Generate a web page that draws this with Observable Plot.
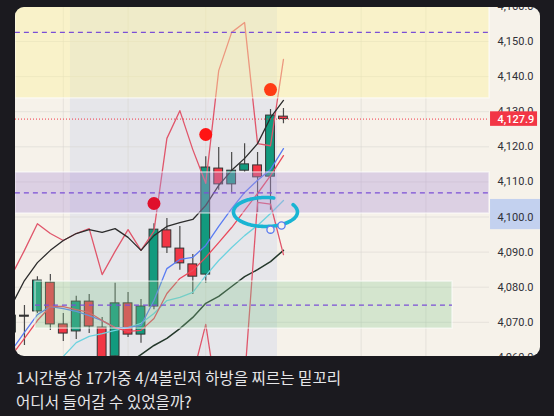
<!DOCTYPE html>
<html><head><meta charset="utf-8">
<script src="https://cdn.jsdelivr.net/npm/d3@7"></script>
<script src="https://cdn.jsdelivr.net/npm/@observablehq/plot@0.6"></script>
<style>
html,body{margin:0;padding:0;background:#1b1a1f;width:554px;height:416px;overflow:hidden}
#panel{position:absolute;left:15px;top:7px;width:525px;height:349px;border-radius:9px;overflow:hidden;background:#f6f2ea}
#cap{position:absolute;left:16px;top:365px;color:#e6e6e8;font-family:"Noto Sans CJK KR","Noto Sans",sans-serif;font-size:15.6px;line-height:24px;white-space:nowrap}
</style></head><body>
<div id="panel"></div>
<div id="cap"><div>1시간봉상 17가중 4/4볼린저 하방을 찌르는 밑꼬리</div><div>어디서 들어갈 수 있었을까?</div></div>
<script>
// ---- candles (1h) ----
const open  = [4067.1,4071.9,4073.1,4081.3,4069.4,4067.4,4075.9,4068.5,4060.3,4075.4,4066.5,4074.5,4096.2,4091.0,4086.5,4083.6,4113.8,4109.3,4113.2,4114.7,4111.5,4128.6];
const high  = [4073.0,4074.8,4083.0,4083.6,4072.5,4077.4,4077.9,4071.4,4081.1,4078.5,4076.5,4098.1,4099.6,4097.3,4089.3,4117.2,4119.8,4118.4,4120.9,4118.4,4130.6,4130.9];
const low   = [4065.5,4063.4,4072.5,4067.7,4064.5,4065.1,4066.8,4057.0,4058.0,4065.7,4064.0,4073.6,4089.6,4084.8,4077.9,4081.1,4107.6,4107.0,4112.7,4101.3,4101.9,4126.6];
const close = [4071.9,4071.6,4081.9,4069.4,4066.8,4075.9,4068.8,4060.0,4075.4,4066.5,4074.5,4096.4,4091.3,4086.8,4083.0,4114.1,4109.3,4113.2,4115.0,4111.3,4128.9,4127.9];

// ---- indicator lines ----
const maBlack = [4074.8,4081.9,4087.0,4090.5,4093.3,4095.3,4096.4,4095.6,4096.7,4094.2,4090.5,4094.7,4097.3,4098.4,4099.3,4103.3,4109.0,4113.3,4116.7,4120.9,4128.3,4133.2];
const maDark  = [null,null,null,null,null,null,null,null,4056.0,4058.3,4060.8,4063.4,4065.4,4068.2,4071.4,4075.4,4077.4,4080.2,4083.0,4085.0,4087.3,4090.5];
const maCyan  = [null,null,null,4055.7,4060.3,4064.2,4066.0,4066.8,4067.7,4068.5,4069.7,4072.5,4076.2,4077.1,4078.5,4083.3,4087.6,4091.3,4094.7,4097.6,4101.0,4104.7];
const maBlue  = [4062.0,4067.1,4072.2,4074.5,4073.9,4073.1,4071.9,4070.5,4068.5,4068.5,4069.1,4076.2,4085.3,4087.9,4088.5,4091.9,4097.3,4102.4,4107.0,4110.5,4113.5,4119.5];
const maRed   = [4060.5,4065.4,4070.5,4074.5,4074.5,4073.6,4072.8,4070.5,4068.5,4067.4,4067.7,4071.1,4078.2,4082.5,4084.8,4088.5,4092.7,4097.0,4101.9,4106.7,4111.8,4117.5];
const bbUpper = [4083.3,4090.5,4098.1,4095.3,4093.3,4095.3,4096.7,4083.6,4090.2,4096.4,4090.5,4096.0,4122.4,4130.3,4119.2,4109.6,4141.7,4152.6,4155.4,4120.9,4120.3,4144.9];
const bbLower = [4052.0,4050.0,4050.0,4052.0,4054.4,4049.6,4050.0,4056.5,4045.0,4044.3,4045.7,4043.9,4034.0,4033.6,4054.9,4069.4,4045.5,4044.0,4053.8,4104.2,4103.7,4089.3];

// ---- signals ----
const sigIndex = [11, 15, 20];
const sigPrice = [4103.85, 4123.5, 4136.3];
const sigColor = ["#e0102c", "#ff1414", "#ff3c14"];

// ---- zones (rectangles with middle line) ----
const zoneLow   = [4133.8, 4101.0, 4068.2];
const zoneHigh  = [4171.4, 4112.7, 4081.6];
const zoneFrom  = [0.3, 0.3, 1.85];
const zoneTo    = [36.91, 36.91, 34.05];
const zoneFill  = ["#fdf29c", "#b197d7", "#85c790"];
const zoneAlpha = [0.42, 0.375, 0.3];

// ---- misc ----
const yTicks = [4060,4070,4080,4090,4100,4110,4120,4130,4140,4150,4160];
const timeGrid = [4, 9, 15, 27, 32];
const sessionFrom = 4.55, sessionTo = 20.54;
const lastPrice = 4127.9;
const selLow = 4096.4, selHigh = 4105.0;
const ellipseCx = 19.61, ellipseCy = 4101.43, ellipseRx = 2.47, ellipseRy = 4.13;
const handleIndex = [20.0, 20.85], handlePrice = [4096.4, 4097.6];

const XMIN = 0.309, XMAX = 36.91;
const candles = open.map((o, i) => ({i, o, h: high[i], l: low[i], c: close[i]}));
const zones = zoneLow.map((lo, k) => ({lo, hi: zoneHigh[k], x1: zoneFrom[k], x2: zoneTo[k], fill: zoneFill[k], a: zoneAlpha[k], mid: (lo + zoneHigh[k]) / 2}));
const signals = sigIndex.map((x, k) => ({x, y: sigPrice[k], c: sigColor[k]}));
const ell = d3.range(75, 391, 3).map(t => ({x: ellipseCx + ellipseRx * Math.cos(t * Math.PI / 180), y: ellipseCy + ellipseRy * Math.sin(t * Math.PI / 180)}));
const handles = handleIndex.map((x, k) => ({x, y: handlePrice[k]}));
const fmt = d3.format(",.1f");
const teal = "#129a7e", red = "#f23645";

const line = (arr, stroke, w = 1.3) => Plot.lineY(arr, {x: (d, i) => i, y: d => d, stroke, strokeWidth: w});

const chart = Plot.plot({
  width: 525, height: 349,
  marginLeft: 0, marginRight: 51, marginTop: 0, marginBottom: 0,
  x: {type: "linear", domain: [XMIN, XMAX], axis: null},
  y: {type: "linear", domain: [4060.26, 4159.69], axis: null},
  style: {background: "transparent", fontFamily: "Roboto, 'Liberation Sans', sans-serif", fontSize: "11px"},
  marks: [
    Plot.rect([0], {x1: sessionFrom, x2: sessionTo, y1: 4050, y2: 4170, fill: "#e6e6ea"}),
    Plot.ruleY(yTicks, {x1: XMIN, x2: XMAX, stroke: "#d8d5cf", strokeOpacity: 0.55}),
    Plot.ruleX(timeGrid, {y1: 4050, y2: 4170, stroke: "#d8d5cf", strokeOpacity: 0.55}),
    Plot.ruleX(candles, {x: "i", y1: "l", y2: "h", stroke: "#4a4a4a", strokeWidth: 1.2}),
    Plot.rect(candles, {x1: d => d.i - 0.34, x2: d => d.i + 0.34,
      y1: d => Math.min(d.o, d.c), y2: d => Math.max(d.o, d.c),
      fill: d => Math.abs(d.c - d.o) < 0.5 ? "#222" : (d.c >= d.o ? teal : red),
      stroke: "#333", strokeWidth: 1}),
    line(maDark, "#24382b", 1.5),
    line(maCyan, "#6dd2df"),
    line(maBlue, "#5a7cf2"),
    line(maRed, "#ea4a5c"),
    line(bbLower, "#e0566b"),
    line(bbUpper, "#e0566b"),
    line(maBlack, "#2c2c2c"),
    Plot.rect(zones, {x1: "x1", x2: "x2", y1: "lo", y2: "hi", fill: "fill", fillOpacity: d => d.a,
      stroke: "#ffffff", strokeOpacity: 0.55, strokeWidth: 1.5}),
    Plot.ruleY(zones, {x1: "x1", x2: "x2", y: "mid", stroke: "#7b4fd6", strokeWidth: 1.2, strokeDasharray: "5,4"}),
    Plot.ruleY([lastPrice], {x1: XMIN, x2: XMAX, stroke: red, strokeWidth: 1, strokeDasharray: "1,2"}),
    Plot.dot(signals, {x: "x", y: "y", r: 6.5, fill: "c"}),
    Plot.line(ell, {x: "x", y: "y", stroke: "#19b4d3", strokeWidth: 3.6, strokeLinecap: "round", curve: "catmull-rom"}),
    Plot.dot(handles, {x: "x", y: "y", r: 3.6, stroke: "#5b7cf0", strokeWidth: 1.3, fill: "#f6f2ea"}),
    Plot.rect([0], {x1: 36.99, x2: 41, y1: selLow, y2: selHigh, fill: "#c3d1ef"}),
    Plot.text(yTicks, {x: XMAX, y: d => d, text: d => fmt(d), dx: 8, textAnchor: "start", fill: "#2f3037", fontSize: 11}),
    Plot.rect([lastPrice], {x1: 36.99, x2: 40.62, y1: d => d - 2.07, y2: d => d + 2.07, fill: red}),
    Plot.text([lastPrice], {x: XMAX, y: d => d, text: d => fmt(d), dx: 8, textAnchor: "start", fill: "#ffffff", fontSize: 11, fontWeight: 500})
  ]
});
document.getElementById("panel").appendChild(chart);
</script>
</body></html>
